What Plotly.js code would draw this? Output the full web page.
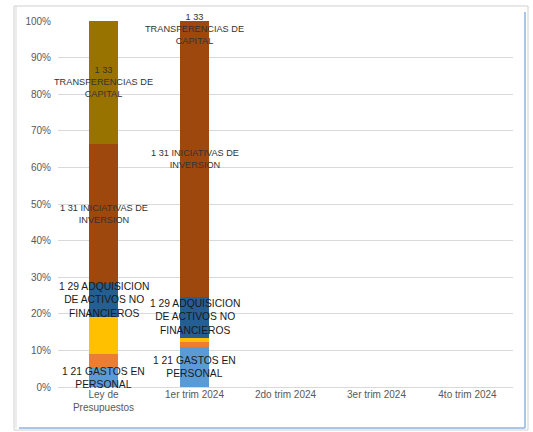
<!DOCTYPE html>
<html>
<head>
<meta charset="utf-8">
<script src="https://cdn.plot.ly/plotly-3.0.1.min.js"></script>
<style>html,body{margin:0;padding:0;background:#fff;}#chart{width:533px;height:432px;}</style>
</head>
<body>
<div id="chart"></div>
<script>
var categories = ["Ley de<br>Presupuestos", "1er trim 2024", "2do trim 2024", "3er trim 2024", "4to trim 2024"];
var seriesNames = ["1 21 GASTOS EN PERSONAL", "1 22", "1 24", "1 29 ADQUISICION DE ACTIVOS NO FINANCIEROS", "1 31 INICIATIVAS DE INVERSION", "1 33 TRANSFERENCIAS DE CAPITAL"];
var labelTexts = ["1 21 GASTOS EN<br>PERSONAL", "", "", "1 29 ADQUISICION<br>DE ACTIVOS NO<br>FINANCIEROS", "1 31 INICIATIVAS DE<br>INVERSION", "1 33<br>TRANSFERENCIAS DE<br>CAPITAL"];
var s121 = [5.1, 11.0, null, null, null];
var s122 = [3.8, 1.2, null, null, null];
var s124 = [10.3, 1.1, null, null, null];
var s129 = [9.1, 11.4, null, null, null];
var s131 = [38.1, 75.3, null, null, null];
var s133 = [33.6, 0, null, null, null];
var tickVals = [0, 10, 20, 30, 40, 50, 60, 70, 80, 90, 100];
var tickText = ["0%", "10%", "20%", "30%", "40%", "50%", "60%", "70%", "80%", "90%", "100%"];

var series = [s121, s122, s124, s129, s131, s133];
var colors = ["#5B9BD5", "#ED7D31", "#FFC000", "#255E91", "#9E480E", "#997300"];
var labelFonts = [
  {size: 10.3, color: "#1a1a1a"}, null, null,
  {size: 10.3, color: "#1a1a1a"},
  {size: 9.2, color: "#333333"},
  {size: 9.2, color: "#333333"}
];

var traces = series.map(function (vals, i) {
  return {
    type: "bar", x: categories, y: vals, name: seriesNames[i],
    marker: {color: colors[i], line: {width: 0}},
    hoverinfo: "none"
  };
});

var annotations = [];
for (var c = 0; c < 2; c++) {
  var base = 0;
  for (var s = 0; s < series.length; s++) {
    var v = series[s][c] || 0;
    var center = base + v / 2;
    base += v;
    if (!labelTexts[s]) continue;
    annotations.push({
      x: categories[c], y: center, xref: "x", yref: "y",
      text: labelTexts[s], showarrow: false,
      font: {family: "Liberation Sans, Arial, sans-serif", size: labelFonts[s].size, color: labelFonts[s].color},
      align: "center",
      yshift: (v === 0 && center >= 99.9) ? -8 : 0
    });
  }
}

// frame helpers (pixel -> paper)
var ML = 58, MT = 21, PW = 455, PH = 366;
function px(x) { return (x - ML) / PW; }
function py(y) { return (MT + PH - y) / PH; }

var layout = {
  width: 533, height: 432,
  margin: {l: ML, r: 533 - ML - PW, t: MT, b: 432 - MT - PH, autoexpand: false},
  paper_bgcolor: "#ffffff", plot_bgcolor: "#ffffff",
  barmode: "stack", bargap: 0.69,
  showlegend: false,
  font: {family: "Liberation Sans, Arial, sans-serif", color: "#595959", size: 10},
  xaxis: {
    type: "category", range: [-0.5, categories.length - 0.5],
    showgrid: false, zeroline: false, showline: false, automargin: false,
    ticks: "", tickfont: {size: 10, color: "#595959"}, fixedrange: true
  },
  yaxis: {
    range: [0, 100], tickvals: tickVals, ticktext: tickText, automargin: false,
    showgrid: true, gridcolor: "#d9d9d9", gridwidth: 1,
    zeroline: true, zerolinecolor: "#d9d9d9", zerolinewidth: 1,
    showline: false, ticks: "", ticklabelstandoff: 6,
    tickfont: {size: 10, color: "#595959"}, fixedrange: true
  },
  annotations: annotations,
  shapes: [
    {type: "rect", xref: "paper", yref: "paper",
     x0: px(14), x1: px(528), y0: py(430), y1: py(6),
     line: {color: "#d0d0d0", width: 1}, fillcolor: "rgba(0,0,0,0)"},
    {type: "line", xref: "paper", yref: "paper",
     x0: px(16), x1: px(16), y0: py(428), y1: py(6),
     line: {color: "#d9d9d9", width: 1}},
    {type: "line", xref: "paper", yref: "paper",
     x0: px(525), x1: px(525), y0: py(428), y1: py(12),
     line: {color: "#8eb4e3", width: 1.5}},
    {type: "line", xref: "paper", yref: "paper",
     x0: px(19), x1: px(525), y0: py(428), y1: py(428),
     line: {color: "#8eb4e3", width: 1.5}}
  ]
};

Plotly.newPlot("chart", traces, layout, {displayModeBar: false, staticPlot: true});
</script>
</body>
</html>
